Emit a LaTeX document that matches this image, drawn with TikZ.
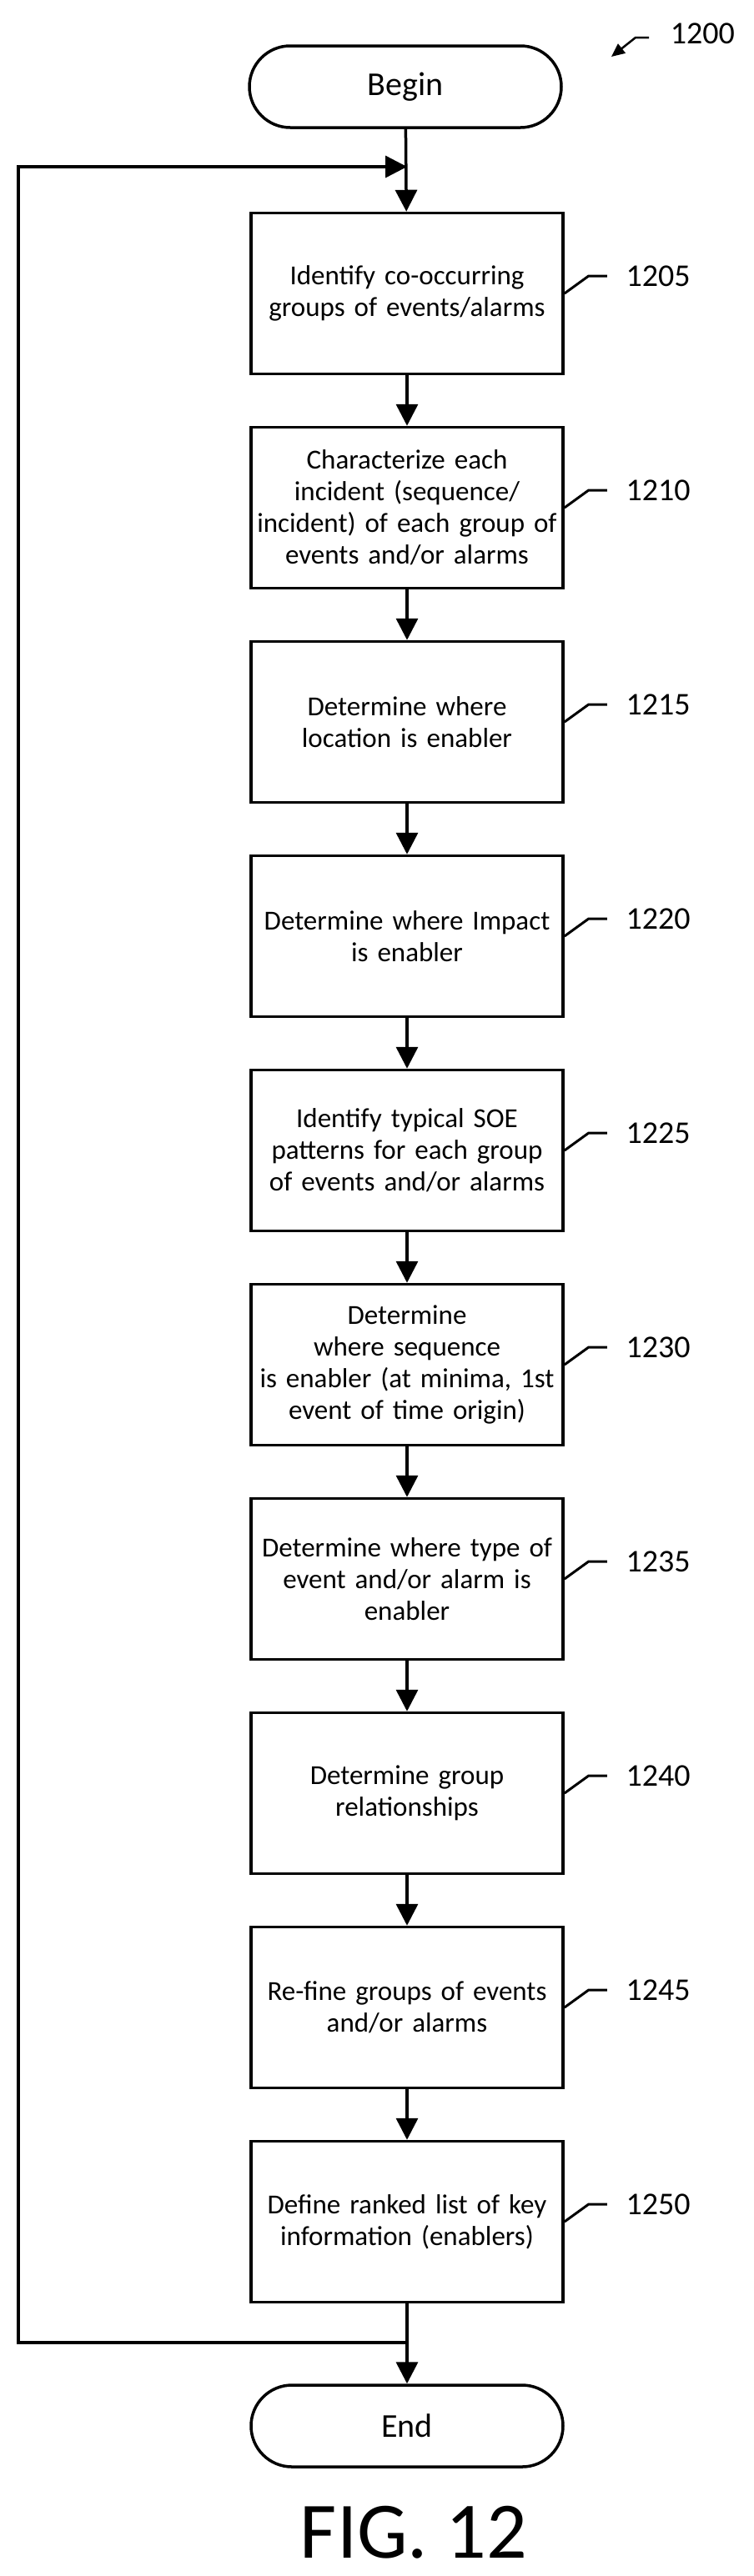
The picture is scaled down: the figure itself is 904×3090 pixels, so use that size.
\documentclass[tikz,border=0pt]{standalone}
\usepackage{fontspec}
\setmainfont{Carlito}
\usetikzlibrary{arrows.meta}
\begin{document}
\begin{tikzpicture}[x=1pt,y=-1pt,
  line width=3.5pt,
  box/.style={draw,minimum width=374pt,minimum height=193pt,align=center,font=\fontsize{33}{38}\selectfont,inner sep=0pt,text width=366pt},
  term/.style={draw,rounded corners=49pt,minimum width=374pt,minimum height=98pt,font=\fontsize{40}{46}\selectfont},
  lab/.style={font=\fontsize{38}{44}\selectfont,anchor=west,inner sep=0pt},
  arr/.style={-{Triangle[length=26pt,width=26pt]}}]
\useasboundingbox (0,0) rectangle (904,3090);
\node[term] (begin) at (486,104) {Begin};
\node[box] (b1) at (488,352) {Identify co-occurring\\groups of events/alarms};
\node[box] (b2) at (488,609) {Characterize each\\incident (sequence/\\incident) of each group of\\events and/or alarms};
\node[box] (b3) at (488,866) {Determine where\\location is enabler};
\node[box] (b4) at (488,1123) {Determine where Impact\\is enabler};
\node[box] (b5) at (488,1380) {Identify typical SOE\\patterns for each group\\of events and/or alarms};
\node[box] (b6) at (488,1637) {Determine where sequence\\is enabler (at minima, 1st\\event of time origin)};
\node[box] (b7) at (488,1894) {Determine where type of\\event and/or alarm is\\enabler};
\node[box] (b8) at (488,2151) {Determine group\\relationships};
\node[box] (b9) at (488,2408) {Re-fine groups of events\\and/or alarms};
\node[box] (b10) at (488,2665) {Define ranked list of key\\information (enablers)};
\node[term] (end) at (488,2910) {End};
\node[font=\fontsize{96}{106}\selectfont] (fig) at (496,3038) {FIG. 12};
\coordinate (top) at (488,200);
\coordinate (bot) at (488,2810);
\coordinate (tl) at (22,200);
\coordinate (bl) at (22,2810);
\draw[arr] (begin) -- (b1);
\foreach \a/\b in {b1/b2,b2/b3,b3/b4,b4/b5,b5/b6,b6/b7,b7/b8,b8/b9,b9/b10,b10/end}
  \draw[arr] (\a) -- (\b);
\draw[arr] (bot) -- (bl) -- (tl) -- (top);
\foreach \n/\t in {b1/1205,b2/1210,b3/1215,b4/1220,b5/1225,b6/1230,b7/1235,b8/1240,b9/1245,b10/1250}{
  \draw[line width=3pt] (\n.east) -- ++(29,-21) -- ++(22,0);
  \path (\n.east) ++(72,-21) node[lab] (l\n) {\t};
}
\node[lab] (l1200) at (802,40) {1200};
\coordinate (a1) at (778,45);
\coordinate (a2) at (762,45);
\coordinate (a3) at (733,68);
\draw[line width=2.5pt,-{Triangle[length=16pt,width=14pt]}] (a1) -- (a2) -- (a3);
\end{tikzpicture}
\end{document}
